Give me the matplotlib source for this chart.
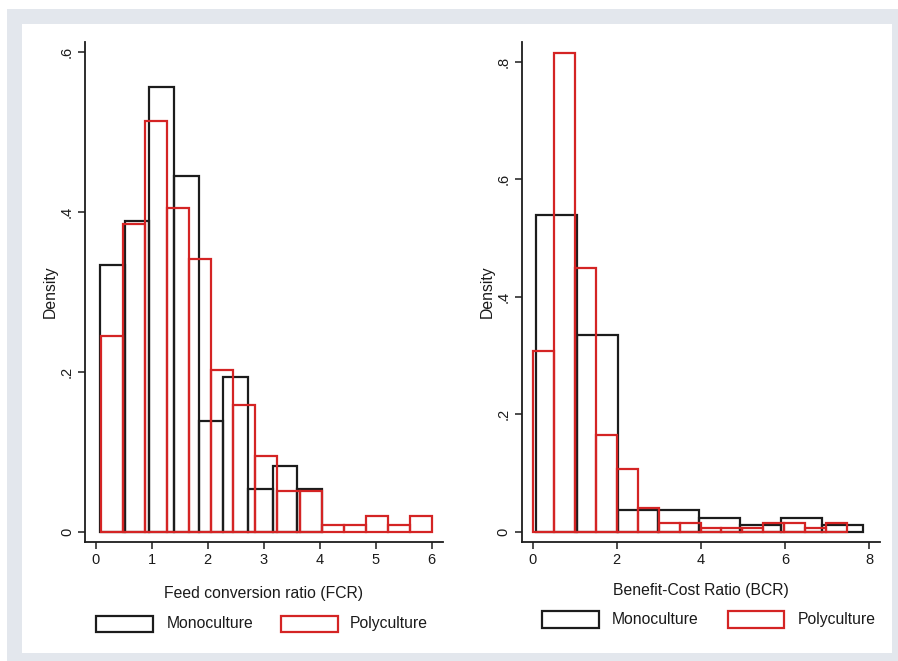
import numpy as np
import matplotlib
matplotlib.use("Agg")
import matplotlib.pyplot as plt
from matplotlib.patches import Rectangle

plt.rcParams['font.family'] = ['Liberation Sans', 'DejaVu Sans']

# ---------------- data ----------------
# Feed conversion ratio (FCR) histograms (density)
fcr_mono_start, fcr_mono_width = 0.077, 0.44
fcr_mono = [0.333, 0.389, 0.556, 0.445, 0.138, 0.194, 0.054, 0.082, 0.054]
fcr_poly_start, fcr_poly_width = 0.095, 0.3937
fcr_poly = [0.245, 0.385, 0.513, 0.405, 0.341, 0.202, 0.159, 0.095,
            0.051, 0.051, 0.009, 0.009, 0.020, 0.009, 0.020]

# Benefit-Cost Ratio (BCR) histograms (density)
bcr_mono_start, bcr_mono_width = 0.08, 0.971
bcr_mono = [0.539, 0.334, 0.037, 0.037, 0.024, 0.011, 0.024, 0.011]
bcr_poly_start, bcr_poly_width = 0.02, 0.497
bcr_poly = [0.307, 0.815, 0.449, 0.165, 0.107, 0.040, 0.014, 0.014,
            0.006, 0.006, 0.006, 0.014, 0.014, 0.006, 0.014]

fcr_xticks = [0, 1, 2, 3, 4, 5, 6]
fcr_xticklabels = ["0", "1", "2", "3", "4", "5", "6"]
fcr_yticks = [0, 0.2, 0.4, 0.6]
fcr_yticklabels = ["0", ".2", ".4", ".6"]
bcr_xticks = [0, 2, 4, 6, 8]
bcr_xticklabels = ["0", "2", "4", "6", "8"]
bcr_yticks = [0, 0.2, 0.4, 0.6, 0.8]
bcr_yticklabels = ["0", ".2", ".4", ".6", ".8"]

series_labels = ["Monoculture", "Polyculture"]
fcr_xlabel = "Feed conversion ratio (FCR)"
bcr_xlabel = "Benefit-Cost Ratio (BCR)"
ylabel = "Density"

# ---------------- style ----------------
W, H = 898, 661
BLACK = "#1c1c1c"
RED = "#d42424"
FRAME = "#e3e7ed"
TXT = "#1a1a1a"

fig = plt.figure(figsize=(W / 100, H / 100), dpi=100)
fig.patch.set_facecolor("white")


def px_rect(x0, y0, x1, y1):
    """top-left pixel coords -> figure fraction rect"""
    return (x0 / W, 1 - y1 / H, (x1 - x0) / W, (y1 - y0) / H)


# outer frame
fx, fy, fw, fh = px_rect(7, 9, 898, 661)
fig.add_artist(Rectangle((fx, fy), fw, fh, transform=fig.transFigure,
                         facecolor=FRAME, edgecolor="none", zorder=-10))
fx, fy, fw, fh = px_rect(22, 24, 892, 653)
fig.add_artist(Rectangle((fx, fy), fw, fh, transform=fig.transFigure,
                         facecolor="white", edgecolor="none", zorder=-9))


def draw_hist(ax, start, width, heights, color):
    n = len(heights)
    lefts = start + width * np.arange(n)
    ax.bar(lefts, heights, width=width, align="edge", fill=False,
           edgecolor=color, linewidth=1.6)


def style_axes(ax, xticks, xtl, yticks, ytl, xlabel, xpad):
    for s in ["top", "right"]:
        ax.spines[s].set_visible(False)
    for s in ["left", "bottom"]:
        ax.spines[s].set_linewidth(1.3)
        ax.spines[s].set_color(BLACK)
    ax.set_facecolor("none")
    ax.set_xticks(xticks)
    ax.set_xticklabels(xtl, fontsize=10.5, color=TXT)
    ax.set_yticks(yticks)
    ax.set_yticklabels(ytl, fontsize=10.5, color=TXT, rotation=90,
                       va="center")
    ax.tick_params(axis="both", length=5, width=1.1, color=BLACK, pad=3)
    ax.set_xlabel(xlabel, fontsize=11.3, color=TXT, labelpad=xpad)
    ax.set_ylabel(ylabel, fontsize=11.3, color=TXT, labelpad=1.5)


# left panel
ax1 = fig.add_axes(px_rect(85, 41.7, 443, 541.7))
draw_hist(ax1, fcr_mono_start, fcr_mono_width, fcr_mono, BLACK)
draw_hist(ax1, fcr_poly_start, fcr_poly_width, fcr_poly, RED)
ax1.set_xlim(-0.191, 6.20)
ax1.set_ylim(-0.0125, 0.6125)
style_axes(ax1, fcr_xticks, fcr_xticklabels, fcr_yticks, fcr_yticklabels,
           fcr_xlabel, 13.5)

# right panel
ax2 = fig.add_axes(px_rect(521.7, 41.7, 880, 541.7))
draw_hist(ax2, bcr_mono_start, bcr_mono_width, bcr_mono, BLACK)
draw_hist(ax2, bcr_poly_start, bcr_poly_width, bcr_poly, RED)
ax2.set_xlim(-0.257, 8.262)
ax2.set_ylim(-0.017, 0.834)
style_axes(ax2, bcr_xticks, bcr_xticklabels, bcr_yticks, bcr_yticklabels,
           bcr_xlabel, 11.5)


# legends (Stata style key boxes)
def legend(box1, box2, text1_x, text2_x):
    for (x0, y0, x1, y1), col, tx, lab in [
            (box1, BLACK, text1_x, series_labels[0]),
            (box2, RED, text2_x, series_labels[1])]:
        rx, ry, rw, rh = px_rect(x0, y0, x1, y1)
        fig.add_artist(Rectangle((rx, ry), rw, rh, transform=fig.transFigure,
                                 facecolor="white", edgecolor=col,
                                 linewidth=1.6))
        fig.text(tx / W, 1 - ((y0 + y1) / 2) / H, lab, fontsize=11.3,
                 color=TXT, ha="left", va="center")


legend((96, 615.7, 153, 631.7), (281, 615.7, 338, 631.7), 166.5, 350)
legend((541.7, 611, 599, 628.3), (727.7, 611, 784.3, 628.3), 612, 797.5)

fig.savefig("out.png", dpi=100, facecolor=fig.get_facecolor())
